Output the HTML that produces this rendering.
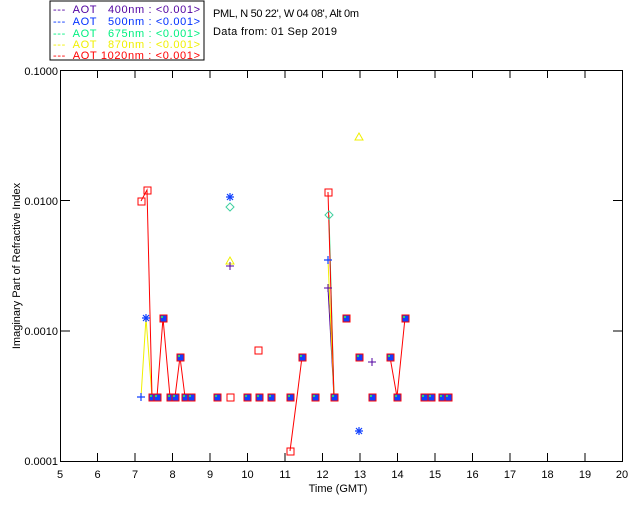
<!DOCTYPE html>
<html><head><style>body{margin:0;background:#fff}svg{display:block}text{font-family:"Liberation Sans",sans-serif;font-size:11px;white-space:pre}</style></head><body>
<svg width="640" height="512" xmlns="http://www.w3.org/2000/svg" xml:space="preserve">
<rect x="50" y="1" width="154" height="59" fill="none" stroke="#000"/>
<g font-size="11">
<text x="53" y="13" fill="#5000a0" textLength="147" lengthAdjust="spacing">---  AOT   400nm : &lt;0.001&gt;</text>
<text x="53" y="25" fill="#0030ff" textLength="147" lengthAdjust="spacing">---  AOT   500nm : &lt;0.001&gt;</text>
<text x="53" y="37" fill="#00f080" textLength="147" lengthAdjust="spacing">---  AOT   675nm : &lt;0.001&gt;</text>
<text x="53" y="48" fill="#f0f000" textLength="147" lengthAdjust="spacing">---  AOT   870nm : &lt;0.001&gt;</text>
<text x="53" y="59" fill="#ff0000" textLength="147" lengthAdjust="spacing">---  AOT 1020nm : &lt;0.001&gt;</text>
<text x="213" y="17" fill="#000" textLength="146">PML, N 50 22', W 04 08', Alt 0m</text>
<text x="213" y="35" fill="#000" textLength="124">Data from: 01 Sep 2019</text>
</g>
<rect x="60.5" y="70.5" width="562" height="391" fill="none" stroke="#000"/>
<g stroke="#000">
<path d="M97.5 70v8M135 70v8M172.5 70v8M210 70v8M247.5 70v8M285 70v8M322.5 70v8M360 70v8M397.5 70v8M435 70v8M472.5 70v8M510 70v8M547.5 70v8M585 70v8"/>
<path d="M97.5 461v-8M135 461v-8M172.5 461v-8M210 461v-8M247.5 461v-8M285 461v-8M322.5 461v-8M360 461v-8M397.5 461v-8M435 461v-8M472.5 461v-8M510 461v-8M547.5 461v-8M585 461v-8"/>
<path d="M60 200.5h10M60 331h10M613 200.5h10M613 331h10"/>
</g>
<g fill="#000" text-anchor="middle">
<text x="60" y="478">5</text><text x="97.5" y="478">6</text><text x="135" y="478">7</text><text x="172.5" y="478">8</text><text x="210" y="478">9</text><text x="247.5" y="478">10</text><text x="285" y="478">11</text><text x="322.5" y="478">12</text><text x="360" y="478">13</text><text x="397.5" y="478">14</text><text x="435" y="478">15</text><text x="472.5" y="478">16</text><text x="510" y="478">17</text><text x="547.5" y="478">18</text><text x="585" y="478">19</text><text x="622" y="478">20</text>
<text x="338" y="492">Time (GMT)</text>
</g>
<g fill="#000" text-anchor="end">
<text x="58" y="75">0.1000</text><text x="58" y="205">0.0100</text><text x="58" y="335">0.0010</text><text x="58" y="465">0.0001</text>
</g>
<text x="20" y="266" transform="rotate(-90 20 266)" text-anchor="middle" fill="#000">Imaginary Part of Refractive Index</text>
<g fill="none" stroke-width="1">
<polyline stroke="#f0f000" points="141,397 146,318 152,397"/>
<polyline stroke="#5000a0" points="328,288 334,397"/>
<polyline stroke="#00f080" points="329,215 334,397"/>
<polyline stroke="#f0f000" points="328,260 334,397"/>
<polyline stroke="#ff0000" points="141,201 147,190 152,397 157,397 163,318 170,397 175,397 180,357 185,397 191,397"/>
<polyline stroke="#ff0000" points="290,451 297,397 302,357"/>
<polyline stroke="#ff0000" points="328,192 334,397"/>
<polyline stroke="#ff0000" points="390,357 397,397 405,318"/>
</g>
<g fill="none" stroke="#ff0000">
<rect x="138" y="198" width="7" height="7"/><rect x="144" y="187" width="7" height="7"/><rect x="227" y="394" width="7" height="7"/><rect x="255" y="347" width="7" height="7"/><rect x="287" y="448" width="7" height="7"/><rect x="325" y="189" width="7" height="7"/>
</g>
<g stroke="#ff0000" fill="#1040ff">
<rect x="149" y="394" width="7" height="7"/><rect x="154" y="394" width="7" height="7"/><rect x="160" y="315" width="7" height="7"/><rect x="167" y="394" width="7" height="7"/><rect x="172" y="394" width="7" height="7"/><rect x="177" y="354" width="7" height="7"/><rect x="182" y="394" width="7" height="7"/><rect x="188" y="394" width="7" height="7"/><rect x="214" y="394" width="7" height="7"/><rect x="244" y="394" width="7" height="7"/><rect x="256" y="394" width="7" height="7"/><rect x="268" y="394" width="7" height="7"/><rect x="287" y="394" width="7" height="7"/><rect x="299" y="354" width="7" height="7"/><rect x="312" y="394" width="7" height="7"/><rect x="331" y="394" width="7" height="7"/><rect x="343" y="315" width="7" height="7"/><rect x="356" y="354" width="7" height="7"/><rect x="369" y="394" width="7" height="7"/><rect x="387" y="354" width="7" height="7"/><rect x="394" y="394" width="7" height="7"/><rect x="402" y="315" width="7" height="7"/><rect x="421" y="394" width="7" height="7"/><rect x="428" y="394" width="7" height="7"/><rect x="439" y="394" width="7" height="7"/><rect x="445" y="394" width="7" height="7"/>
</g>
<g fill="#30d070">
<rect x="150" y="395" width="2" height="2"/><rect x="155" y="395" width="2" height="2"/><rect x="161" y="316" width="2" height="2"/><rect x="168" y="395" width="2" height="2"/><rect x="173" y="395" width="2" height="2"/><rect x="178" y="355" width="2" height="2"/><rect x="183" y="395" width="2" height="2"/><rect x="189" y="395" width="2" height="2"/><rect x="215" y="395" width="2" height="2"/><rect x="245" y="395" width="2" height="2"/><rect x="257" y="395" width="2" height="2"/><rect x="269" y="395" width="2" height="2"/><rect x="288" y="395" width="2" height="2"/><rect x="300" y="355" width="2" height="2"/><rect x="313" y="395" width="2" height="2"/><rect x="332" y="395" width="2" height="2"/><rect x="344" y="316" width="2" height="2"/><rect x="357" y="355" width="2" height="2"/><rect x="370" y="395" width="2" height="2"/><rect x="388" y="355" width="2" height="2"/><rect x="395" y="395" width="2" height="2"/><rect x="403" y="316" width="2" height="2"/><rect x="422" y="395" width="2" height="2"/><rect x="429" y="395" width="2" height="2"/><rect x="440" y="395" width="2" height="2"/><rect x="446" y="395" width="2" height="2"/>
</g>
<g stroke="#1040ff" stroke-width="1.2">
<path d="M226 197h8M230 193v8M227 194l6 6M233 194l-6 6"/>
<path d="M355 431h8M359 427v8M356 428l6 6M362 428l-6 6"/>
<path d="M142 318h8M146 314v8M143 315l6 6M149 315l-6 6"/>
<path d="M137 397h8M141 393v8"/>
<path d="M324 260h8M328 256v8"/>
</g>
<path d="M230 203l4 4-4 4-4-4z M329 211l4 4-4 4-4-4z" fill="none" stroke="#40d0a0"/>
<path d="M230 257l4 7h-8z M359 133l4 7h-8z" fill="none" stroke="#f0f000"/>
<g stroke="#5000a0"><path d="M226 266h8M230 262v8M368 362h8M372 358v8M324 288h8M328 284v8"/></g>
</svg>
</body></html>
